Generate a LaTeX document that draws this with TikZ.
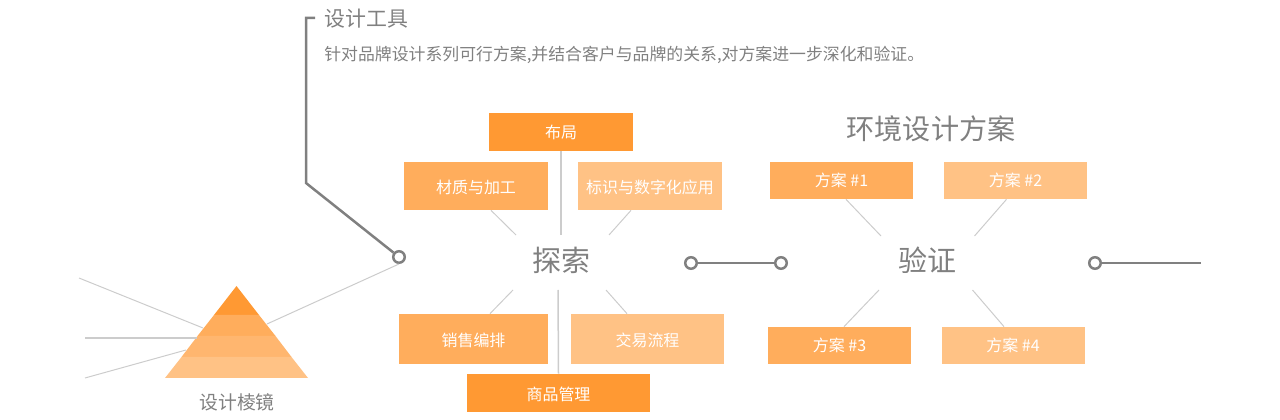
\documentclass[tikz,border=0pt]{standalone}
\usepackage{fontspec}
\setmainfont{Noto Sans CJK SC}
\usepackage{xcolor}
\usetikzlibrary{positioning}
\definecolor{orangeA}{HTML}{FF9933}
\definecolor{orangeB}{HTML}{FFAD5C}
\definecolor{orangeC}{HTML}{FFB66F}
\definecolor{orangeD}{HTML}{FFC285}
\definecolor{inkgray}{HTML}{808080}
\tikzset{
  box/.style={inner sep=0pt,text=white,font=\fontsize{9.1}{11}\selectfont,text height=9pt,text depth=1pt,minimum width=2.88cm,minimum height=0.96cm},
  optbox/.style={box,text height=8pt,minimum width=2.86cm,minimum height=0.74cm},
  hub/.style={text=inkgray,inner sep=0pt,font=\fontsize{16.5}{20}\selectfont},
  ring/.style={circle,draw=inkgray,line width=0.05cm,fill=white,inner sep=0pt,minimum size=0.23cm},
  link/.style={draw=inkgray,line width=0.05cm},
  spoke/.style={draw=black!20,line width=0.02cm},
  thickspoke/.style={draw=black!20,line width=0.03cm}
}
\begin{document}
\begin{tikzpicture}
    \useasboundingbox (0,0) rectangle (25.6,8.4);
    % prism bands
    \fill[orangeA] (4.73,2.68) -- (5.18,2.10) -- (4.28,2.10) -- cycle;
    \fill[orangeB] (4.28,2.10) -- (5.18,2.10) -- (5.51,1.68) -- (3.95,1.68) -- cycle;
    \fill[orangeC] (3.95,1.68) -- (5.51,1.68) -- (5.83,1.26) -- (3.63,1.26) -- cycle;
    \fill[orangeD] (3.63,1.26) -- (5.83,1.26) -- (6.16,0.84) -- (3.30,0.84) -- cycle;
    % free ends of the connectors
    \foreach \n/\x/\y in {rayinA/4.06/1.84,rayoutA/1.58/2.84,rayinB/3.94/1.64,rayoutB/1.70/1.64,rayinC/3.72/1.40,rayoutC/1.70/0.84,rayinD/5.34/1.92,
      elbow/6.12/4.74,corner/6.12/8.04,tip/6.30/8.04,linkend/24.02/3.14,
      layoutend/11.22/3.70,materialend/10.32/3.70,markend/12.18/3.70,salesend/10.26/2.60,tradeend/12.12/2.60,goodsend/11.16/2.60,
      planAend/17.62/3.68,planBend/19.49/3.68,planCend/17.58/2.60,planDend/19.45/2.60}
      \coordinate (\n) at (\x,\y);
    % titles
    \node[anchor=west,inner sep=0pt,text=inkgray,font=\fontsize{11.9}{14}\selectfont] (tooltitle) at (6.48,8.03) {设计工具};
    \node[anchor=west,inner sep=0pt,text=inkgray,font=\fontsize{9.6}{11}\selectfont] (tooltext) at (6.48,7.30) {针对品牌设计系列可行方案,并结合客户与品牌的关系,对方案进一步深化和验证。};
    \node[inner sep=0pt,text=inkgray,font=\fontsize{16}{19}\selectfont] (plantitle) at (18.62,5.82) {环境设计方案};
    \node[inner sep=0pt,text=inkgray,font=\fontsize{10.7}{13}\selectfont] (prismlabel) at (4.74,0.36) {设计棱镜};
    % explore group
    \node[hub] (explore) at (11.23,3.20) {探索};
    \node[box,fill=orangeA,text height=8pt,minimum height=0.76cm] (layout) at (11.22,5.76) {布局};
    \node[box,fill=orangeB] (material) at (9.52,4.68) {材质与加工};
    \node[box,fill=orangeD] (mark) at (13.00,4.68) {标识与数字化应用};
    \node[box,fill=orangeB,minimum width=2.98cm,minimum height=1cm] (sales) at (9.47,1.62) {销售编排};
    \node[box,fill=orangeD,minimum width=3.06cm,minimum height=1cm] (trade) at (12.95,1.62) {交易流程};
    \node[box,fill=orangeA,minimum width=3.66cm,minimum height=0.76cm] (goods) at (11.17,0.54) {商品管理};
    % verify group
    \node[hub] (verify) at (18.55,3.20) {验证};
    \node[optbox,fill=orangeB] (planA) at (16.83,4.79) {方案 \#1};
    \node[optbox,fill=orangeD] (planB) at (20.31,4.79) {方案 \#2};
    \node[optbox,fill=orangeB] (planC) at (16.79,1.49) {方案 \#3};
    \node[optbox,fill=orangeD] (planD) at (20.26,1.49) {方案 \#4};
    % spokes
    \draw[thickspoke] (layout.south) -- (layoutend);
    \draw[thickspoke] (goods.north) -- (goodsend);
    \draw[spoke] ([xshift=0.30cm]material.south) -- (materialend);
    \draw[spoke] ([xshift=-0.38cm]mark.south) -- (markend);
    \draw[spoke] ([xshift=0.33cm]sales.north) -- (salesend);
    \draw[spoke] ([xshift=-0.41cm]trade.north) -- (tradeend);
    \draw[spoke] ([xshift=0.09cm]planA.south) -- (planAend);
    \draw[spoke] ([xshift=-0.18cm]planB.south) -- (planBend);
    \draw[spoke] ([xshift=0.09cm]planC.north) -- (planCend);
    \draw[spoke] ([xshift=-0.18cm]planD.north) -- (planDend);
    % rings
    \node[ring] (ringA) at (7.98,3.26) {};
    \node[ring] (ringB) at (13.82,3.14) {};
    \node[ring] (ringC) at (15.62,3.14) {};
    \node[ring] (ringD) at (21.90,3.14) {};
    % rays through the prism
    \draw[spoke] (rayinA) -- (rayoutA);
    \draw[thickspoke] (rayinB) -- (rayoutB);
    \draw[spoke] (rayinC) -- (rayoutC);
    \draw[spoke] (rayinD) -- (ringA.south);
    % links
    \draw[link] (ringA) -- (elbow) -- (corner) -- (tip);
    \draw[link] (ringB) -- (ringC);
    \draw[link] (ringD) -- (linkend);
  \end{tikzpicture}
\end{document}
